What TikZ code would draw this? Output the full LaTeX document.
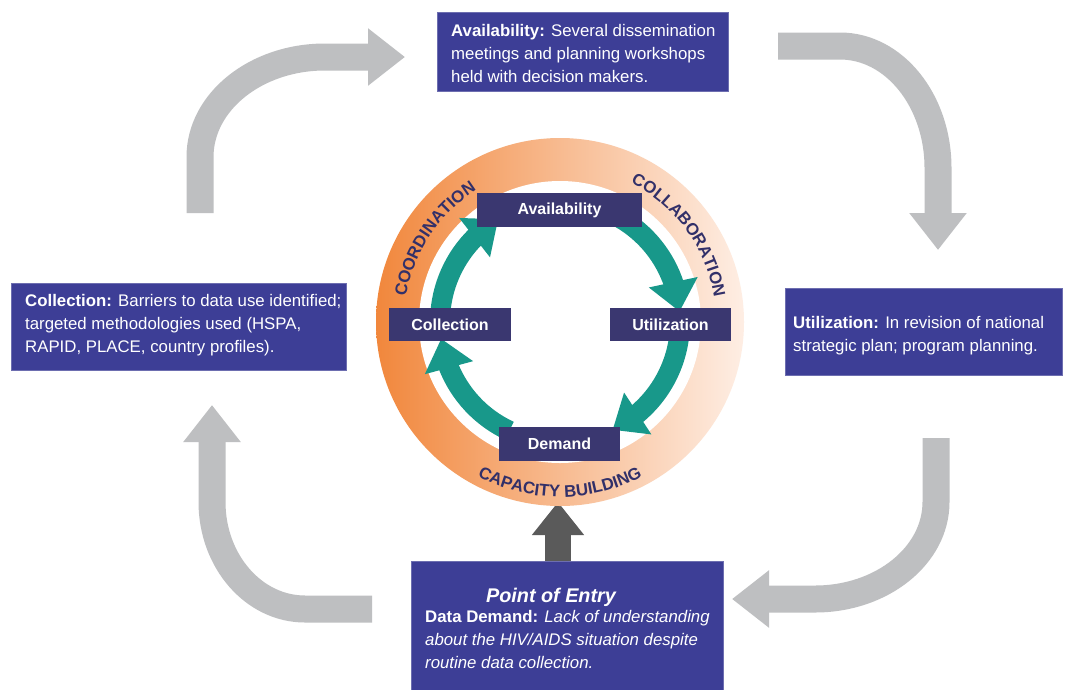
\documentclass[tikz,border=0pt]{standalone}
\usepackage{fontspec}
\setmainfont{Liberation Sans}
\usetikzlibrary{arrows.meta,bending,decorations.text}
\definecolor{outerbox}{RGB}{61,62,150}
\definecolor{innerbox}{RGB}{58,55,112}
\definecolor{tealc}{RGB}{24,152,138}
\definecolor{greyarrow}{RGB}{190,191,193}
\definecolor{darkarrow}{RGB}{90,90,90}
\definecolor{ringL}{RGB}{241,135,60}
\definecolor{ringR}{RGB}{254,238,228}
\definecolor{ringtext}{RGB}{50,48,105}
\newcommand{\ringfont}{\color{ringtext}\bfseries\fontsize{16.8}{17}\selectfont}
\begin{document}
\begin{tikzpicture}[x=1pt,y=1pt,
  bigbox/.style={fill=outerbox, draw=outerbox!75!white, line width=1pt, inner sep=0pt},
  boxtext/.style={text=white, align=left, inner sep=0pt, anchor=north west, font=\fontsize{16.8}{23}\selectfont},
  smallbox/.style={fill=innerbox, text=white, inner sep=0pt, font=\fontsize{16}{18}\selectfont\bfseries},
  greyarr/.style={draw=greyarrow, line width=27pt, -{Triangle[width=55pt,length=37pt]}},
  tealarr/.style={draw=tealc, line width=20pt, -{Triangle[width=48pt,length=30pt]}},
  darkarr/.style={draw=darkarrow, line width=26pt, -{Triangle[width=50pt,length=33pt]}},
  ringdeco/.style={decorate, decoration={text along path, text align=center, text={#1}}}
]
\useasboundingbox (0,0) rectangle (1065,-689);
\fill[white] (0,0) rectangle (1065,-689);

% ---- outer boxes
\node[bigbox, minimum width=291pt, minimum height=79pt] (avail) at (582.5,-51.5) {};
\node[bigbox, minimum width=335pt, minimum height=87pt] (collect) at (178.5,-326.5) {};
\node[bigbox, minimum width=277pt, minimum height=87pt] (util) at (923.5,-331.5) {};
\node[bigbox, minimum width=312pt, minimum height=132pt] (entry) at (567,-627) {};

\node[boxtext] (availtext) at (451,-23.7) {\textbf{Availability:} Several dissemination\\meetings and planning workshops\\held with decision makers.};
\node[boxtext] (collecttext) at (25,-293.7) {\textbf{Collection:} Barriers to data use identified;\\targeted methodologies used (HSPA,\\RAPID, PLACE, country profiles).};
\node[boxtext] (utiltext) at (793,-315.7) {\textbf{Utilization:} In revision of national\\strategic plan; program planning.};
\node[text=white, inner sep=0pt, anchor=base, font=\fontsize{19.8}{22}\selectfont\bfseries\itshape] (entrytitle) at (551,-602) {Point of Entry};
\node[boxtext] (entrytext) at (425,-609.7) {\textbf{Data Demand:} \textit{Lack of understanding}\\\textit{about the HIV/AIDS situation despite}\\\textit{routine data collection.}};

% ---- grey cycle arrows
\coordinate (g1s) at (200,-213); \coordinate (g1e) at (405,-57);
\coordinate (g2s) at (778,-46);  \coordinate (g2e) at (938,-250);
\coordinate (g3s) at (936,-438); \coordinate (g3e) at (732,-599);
\coordinate (g4s) at (372,-609); \coordinate (g4e) at (212,-405);
\draw[greyarr] (g1s) -- (200,-157) arc[start angle=180, end angle=90, x radius=125, y radius=100] -- (g1e);
\draw[greyarr] (g2s) -- (840,-46) arc[start angle=90, end angle=0, x radius=98, y radius=122] -- (g2e);
\draw[greyarr] (g3s) -- (936,-502) arc[start angle=0, end angle=-90, x radius=121, y radius=97] -- (g3e);
\draw[greyarr] (g4s) -- (305,-609) arc[start angle=-90, end angle=-180, x radius=93, y radius=107] -- (g4e);

% ---- entry arrow
\coordinate (uptip) at (558,-502);
\draw[darkarr] (entry.north -| uptip) -- (uptip);

% ---- ring
\begin{scope}[shift={(560,-322)}]
  \coordinate (C) at (0,0);
  \shade[left color=ringL, right color=ringR] (C) circle[radius=184];
  \fill[white] (C) circle[radius=141];
  \path[ringdeco={|\ringfont|COORDINATION}] (176:156) arc[start angle=176, end angle=117, radius=156];
  \path[ringdeco={|\ringfont|COLLABORATION}] (66:156) arc[start angle=66, end angle=6, radius=156];
  \path[ringdeco={|\ringfont|CAPACITY BUILDING}] (230:175) arc[start angle=230, end angle=310, radius=175];

  \coordinate (t1s) at (60:120);
  \coordinate (t2s) at (-5:120);
  \coordinate (t3s) at (-115:120);
  \coordinate (t4s) at (178:120);
  \draw[tealarr] (t1s) arc[start angle=60, end angle=5, radius=120];
  \draw[tealarr] (t2s) arc[start angle=-5, end angle=-64, radius=120];
  \draw[tealarr] (t3s) arc[start angle=-115, end angle=-172, radius=120];
  \draw[tealarr] (t4s) arc[start angle=178, end angle=121, radius=120];
\end{scope}

% ---- inner boxes
\node[smallbox, minimum width=165pt, minimum height=34pt] (iavail) at (559.5,-210) {Availability};
\node[smallbox, minimum width=122pt, minimum height=33pt] (icollect) at (450,-324.5) {Collection};
\node[smallbox, minimum width=121pt, minimum height=33pt] (iutil) at (670.5,-324.5) {Utilization};
\node[smallbox, minimum width=121pt, minimum height=34pt] (idemand) at (559.5,-444) {Demand};
\end{tikzpicture}
\end{document}
